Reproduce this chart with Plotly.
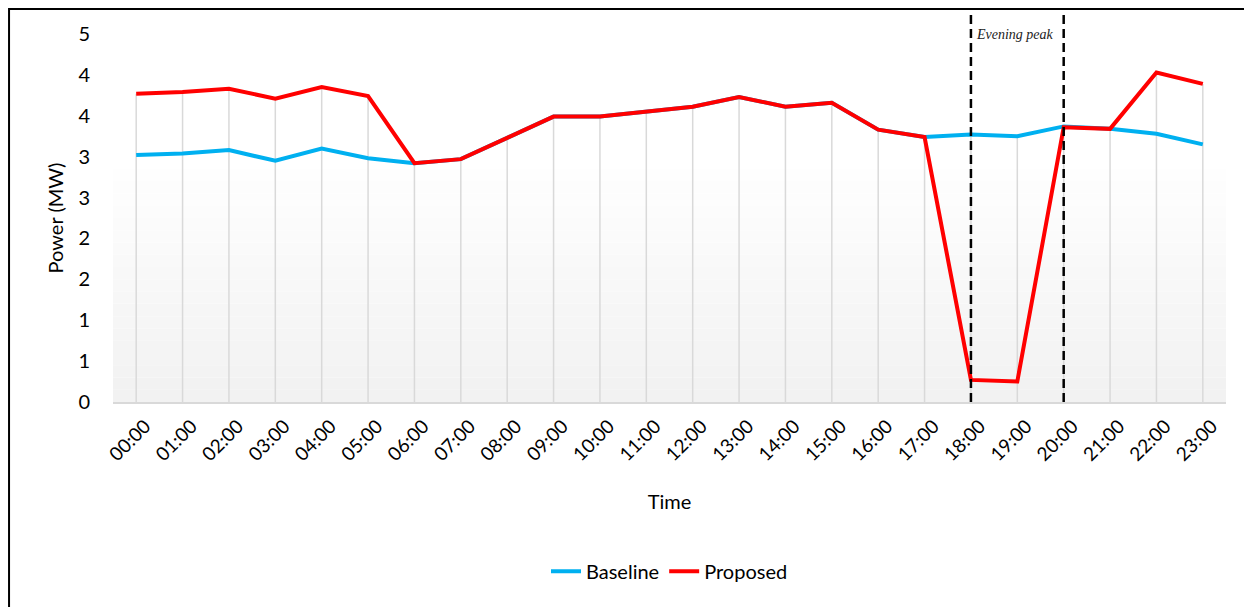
import math
import plotly.graph_objects as go

hours = [f"{h:02d}:00" for h in range(24)]

baseline = [3.02, 3.04, 3.08, 2.95, 3.10, 2.98, 2.92, 2.97, 3.23, 3.49, 3.49, 3.55,
            3.61, 3.73, 3.61, 3.66, 3.33, 3.24, 3.27, 3.25, 3.37, 3.34, 3.28, 3.15]
proposed = [3.77, 3.79, 3.83, 3.71, 3.85, 3.74, 2.92, 2.97, 3.23, 3.49, 3.49, 3.55,
            3.61, 3.73, 3.61, 3.66, 3.33, 3.24, 0.27, 0.25, 3.36, 3.34, 4.03, 3.89]

y_ticks = [i * 0.5 for i in range(10)]
y_labels = [str(math.floor(v + 0.5)) for v in y_ticks]  # Excel-style rounding of 0.5 steps

peak_start, peak_end = "18:00", "20:00"

FONT = "Lato"

fig = go.Figure()

# drop lines from the higher series down to the axis
drop_x, drop_y = [], []
for h, b, p in zip(hours, baseline, proposed):
    drop_x += [h, h, None]
    drop_y += [0, max(b, p), None]
fig.add_trace(go.Scatter(x=drop_x, y=drop_y, mode="lines",
                         line=dict(color="#d9d9d9", width=1.5),
                         showlegend=False, hoverinfo="skip"))

fig.add_trace(go.Scatter(x=hours, y=baseline, name="Baseline", mode="lines",
                         line=dict(color="#00b0f0", width=4)))
fig.add_trace(go.Scatter(x=hours, y=proposed, name="Proposed", mode="lines",
                         line=dict(color="#ff0000", width=4)))

# soft vertical gradient in plot area
shapes = []
n = 30
for i in range(n):
    t = i / n
    c = int(242 + (255 - 242) * min(1.0, t * 1.6))
    shapes.append(dict(type="rect", xref="paper", yref="paper", x0=0, x1=1,
                       y0=t, y1=t + 1.0 / n, fillcolor=f"rgb({c},{c},{c})",
                       line=dict(width=0), layer="below"))

# evening peak markers
for h in (peak_start, peak_end):
    shapes.append(dict(type="line", xref="x", yref="paper",
                       x0=hours.index(h), x1=hours.index(h), y0=0, y1=1.08,
                       line=dict(color="black", width=2.5, dash="9px,5px")))

# outer frame (left and top edges visible)
shapes.append(dict(type="rect", xref="paper", yref="paper",
                   x0=-0.0934, x1=1.1, y0=-0.7, y1=1.068,
                   line=dict(color="black", width=2), fillcolor="rgba(0,0,0,0)"))

fig.update_layout(
    width=1244, height=599,
    margin=dict(l=105, r=26, t=26, b=205),
    paper_bgcolor="white",
    plot_bgcolor="white",
    font=dict(family=FONT, size=18, color="black"),
    shapes=shapes,
    annotations=[dict(text="<i>Evening peak</i>", xref="x", yref="paper",
                      x=hours.index(peak_start), y=1.0, xanchor="left", yanchor="middle",
                      xshift=3, showarrow=False,
                      font=dict(family="Liberation Serif", size=14, color="#222"))],
    legend=dict(orientation="h", x=0.5, xanchor="center", y=-0.46, yanchor="middle",
                font=dict(size=20), bgcolor="rgba(0,0,0,0)"),
    xaxis=dict(
        type="category", range=[-0.5, 23.5], showgrid=False, automargin=False,
        showline=True, linecolor="#d9d9d9", linewidth=1.5,
        tickangle=-45, tickfont=dict(size=19), ticks="",
        ticklabelshift=9, ticklabelstandoff=4,
        title=dict(text="Time", font=dict(size=20), standoff=31),
        fixedrange=True,
    ),
    yaxis=dict(
        range=[0, 4.5], showgrid=False, zeroline=False, showline=False, automargin=False,
        tickvals=y_ticks, ticktext=y_labels, tickfont=dict(size=20),
        ticks="", ticklabelstandoff=22,
        title=dict(text="Power (MW)", font=dict(size=20), standoff=9),
    ),
)

fig.write_html("out.html")
